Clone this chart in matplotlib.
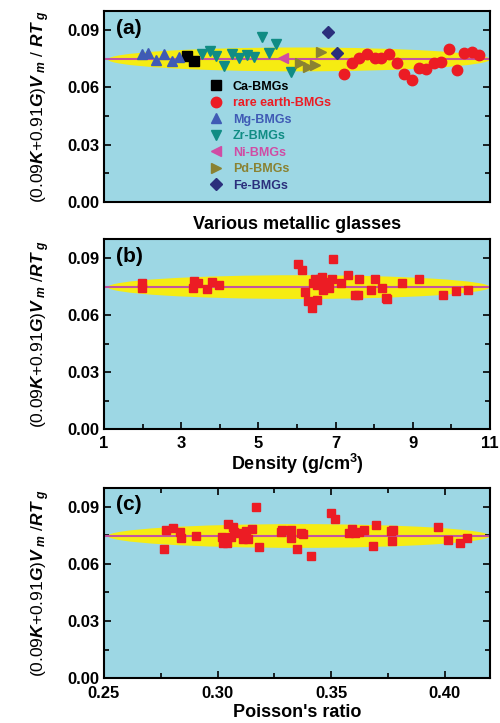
import matplotlib
matplotlib.use("Agg")
import matplotlib.pyplot as plt
from matplotlib.patches import Ellipse
from matplotlib.ticker import MultipleLocator
import matplotlib.transforms as mtrans

plt.rcParams['font.family'] = ['Liberation Sans', 'DejaVu Sans']
plt.rcParams['font.weight'] = 'bold'
plt.rcParams['mathtext.fontset'] = 'custom'
plt.rcParams['mathtext.bfit'] = 'Liberation Sans:italic:bold'
plt.rcParams['mathtext.it'] = 'Liberation Sans:italic:bold'
plt.rcParams['mathtext.bf'] = 'Liberation Sans:bold'
plt.rcParams['mathtext.rm'] = 'Liberation Sans:bold'

# ---------------- data: panel (a) ----------------
mg_x = [5.0, 5.8, 6.8, 7.9, 8.9, 9.9]
mg_y = [0.0774, 0.0781, 0.0743, 0.0774, 0.0738, 0.0760]
ca_x = [10.9, 11.9]
ca_y = [0.0764, 0.0738]
zr_x = [12.9, 13.9, 14.8, 15.8, 16.8, 17.8, 18.8, 19.8, 20.75, 21.75, 22.7, 24.6]
zr_y = [0.0778, 0.0792, 0.0764, 0.0713, 0.0773, 0.0755, 0.0769, 0.0760, 0.0862, 0.0781, 0.0830, 0.0682]
ni_x = [23.5]
ni_y = [0.0752]
pd_x = [25.8, 26.9, 27.8, 28.6]
pd_y = [0.0726, 0.0708, 0.0717, 0.0786]
fe_x = [29.5, 30.6]
fe_y = [0.0891, 0.0783]
re_x = [31.6, 32.6, 33.6, 34.6, 35.6, 36.5, 37.5, 38.5, 39.5, 40.5, 41.5, 42.4,
        43.4, 44.4, 45.4, 46.4, 47.4, 48.4, 49.4]
re_y = [0.0673, 0.0729, 0.0757, 0.0774, 0.0755, 0.0757, 0.0774, 0.0729, 0.0670,
        0.0638, 0.0703, 0.0699, 0.0726, 0.0734, 0.0804, 0.0691, 0.0781, 0.0786, 0.0769]

# ---------------- data: panel (b) ----------------
density = [1.98, 1.99, 3.30, 3.34, 3.44, 3.66, 3.81, 3.99, 6.03, 6.14, 6.22, 6.29,
           6.39, 6.42, 6.47, 6.51, 6.53, 6.55, 6.60, 6.64, 6.68, 6.73, 6.77, 6.84,
           6.90, 6.94, 7.13, 7.31, 7.50, 7.59, 7.61, 7.91, 8.03, 8.19, 8.30, 8.34,
           8.71, 9.17, 9.79, 10.12, 10.42]
val_b = [0.0766, 0.0740, 0.0743, 0.0778, 0.0769, 0.0736, 0.0774, 0.0757, 0.0867, 0.0835,
         0.0719, 0.0673, 0.0638, 0.0766, 0.0788, 0.0757, 0.0678, 0.0778, 0.0792, 0.0800,
         0.0731, 0.0774, 0.0760, 0.0740, 0.0792, 0.0897, 0.0766, 0.0809, 0.0704, 0.0708,
         0.0787, 0.0731, 0.0792, 0.0740, 0.0690, 0.0683, 0.0771, 0.0792, 0.0708, 0.0725,
         0.0731]

# ---------------- data: panel (c) ----------------
poisson = [0.2763, 0.2771, 0.2806, 0.2836, 0.2839, 0.2905, 0.3018, 0.3022, 0.3041, 0.3044,
           0.3059, 0.3066, 0.3073, 0.3088, 0.3110, 0.3125, 0.3136, 0.3154, 0.3168, 0.3183,
           0.3278, 0.3282, 0.3322, 0.3325, 0.3351, 0.3366, 0.3377, 0.3412, 0.3500, 0.3519,
           0.3578, 0.3592, 0.3607, 0.3621, 0.3643, 0.3683, 0.3699, 0.3763, 0.3768, 0.3771,
           0.3969, 0.4013, 0.4070, 0.4097]
val_c = [0.0677, 0.0778, 0.0790, 0.0769, 0.0737, 0.0746, 0.0743, 0.0708, 0.0712, 0.0808,
         0.0743, 0.0792, 0.0769, 0.0764, 0.0729, 0.0774, 0.0729, 0.0786, 0.0897, 0.0690,
         0.0769, 0.0778, 0.0781, 0.0734, 0.0677, 0.0764, 0.0760, 0.0641, 0.0870, 0.0835,
         0.0764, 0.0786, 0.0764, 0.0769, 0.0778, 0.0692, 0.0803, 0.0774, 0.0720, 0.0781,
         0.0792, 0.0725, 0.0708, 0.0734]

mean_val = 0.0747
band_height = 0.0125
yticks = [0.00, 0.03, 0.06, 0.09]

BG = '#9dd7e4'
YEL = '#f6ec12'
LINE = '#c455a0'
RED = '#ec1c24'

fig = plt.figure(figsize=(5.0, 7.23), dpi=100)
axa = fig.add_axes([0.208, 0.7206, 0.772, 0.264])
axb = fig.add_axes([0.208, 0.4066, 0.772, 0.2628])
axc = fig.add_axes([0.208, 0.0622, 0.772, 0.263])

ylabel_a = r'(0.09$\mathbfit{K}$+0.91$\mathbfit{G}$)$\mathbfit{V}_{\ \mathbfit{m}}$ / $\mathbfit{RT}_{\ \mathbfit{g}}$'
ylabel_bc = r'(0.09$\mathbfit{K}$+0.91$\mathbfit{G}$)$\mathbfit{V}_{\ \mathbfit{m}}$ /$\mathbfit{RT}_{\ \mathbfit{g}}$'


def style(ax, label, ylab):
    ax.set_facecolor(BG)
    ax.set_ylim(0, 0.1)
    ax.set_yticks(yticks)
    ax.set_yticklabels(['%.2f' % v for v in yticks])
    ax.yaxis.set_minor_locator(MultipleLocator(0.015))
    for s in ax.spines.values():
        s.set_linewidth(1.5)
    ax.tick_params(axis='both', which='major', direction='in', length=5, width=1.2,
                   labelsize=12, right=True)
    ax.tick_params(axis='both', which='minor', direction='in', length=3.5, width=1.2,
                   right=True)
    trans = mtrans.blended_transform_factory(ax.transAxes, ax.transData)
    ax.add_patch(Ellipse((0.505, mean_val), 0.99, band_height, transform=trans,
                         facecolor=YEL, edgecolor='none', zorder=1))
    ax.axhline(mean_val, color=LINE, lw=1.5, zorder=2)
    ax.text(0.03, 0.91, label, transform=ax.transAxes, fontsize=15,
            fontweight='bold', va='center', ha='left')
    ax.set_ylabel(ylab, fontsize=12.5, labelpad=11)


# ---- panel (a) ----
style(axa, '(a)', ylabel_a)
axa.set_xlim(0, 50.8)
axa.set_xticks([])
ms = 7.5
axa.plot(ca_x, ca_y, 's', color='black', ms=6.5, zorder=3, label='Ca-BMGs')
axa.plot(re_x, re_y, 'o', color=RED, ms=7.5, zorder=3, label='rare earth-BMGs')
axa.plot(mg_x, mg_y, '^', color='#3f5bb5', ms=ms, zorder=3, label='Mg-BMGs')
axa.plot(zr_x, zr_y, 'v', color='#108c84', ms=ms, zorder=3, label='Zr-BMGs')
axa.plot(ni_x, ni_y, '<', color='#d04ca4', ms=ms, zorder=3, label='Ni-BMGs')
axa.plot(pd_x, pd_y, '>', color='#8a8232', ms=ms, zorder=3, label='Pd-BMGs')
axa.plot(fe_x, fe_y, 'D', color='#2b2f7c', ms=6, zorder=3, label='Fe-BMGs')
leg_colors = ['black', RED, '#3f5bb5', '#108c84', '#d04ca4', '#8a8232', '#2b2f7c']
leg = axa.legend(loc='upper left', bbox_to_anchor=(0.275, 0.635), frameon=False,
                 fontsize=9, numpoints=1, handlelength=1.0, handletextpad=0.8,
                 labelspacing=0.36, borderpad=0, borderaxespad=0,
                 labelcolor=leg_colors, prop={'weight': 'bold', 'size': 9})
axa.set_xlabel('Various metallic glasses', fontsize=13, fontweight='bold', labelpad=10)

# ---- panel (b) ----
style(axb, '(b)', ylabel_bc)
axb.set_xlim(1, 11)
axb.set_xticks([1, 3, 5, 7, 9, 11])
axb.xaxis.set_minor_locator(MultipleLocator(1))
axb.tick_params(axis='x', which='both', top=False, pad=5)
axb.plot(density, val_b, 's', color=RED, ms=6, zorder=3)
axb.set_xlabel(r'Density (g/cm$^{\mathbf{3}}$)', fontsize=13, fontweight='bold', labelpad=1)

# ---- panel (c) ----
style(axc, '(c)', ylabel_bc)
axc.set_xlim(0.25, 0.42)
axc.set_xticks([0.25, 0.30, 0.35, 0.40])
axc.set_xticklabels(['0.25', '0.30', '0.35', '0.40'])
axc.xaxis.set_minor_locator(MultipleLocator(0.025))
axc.tick_params(axis='x', which='both', top=True, pad=6)
axc.plot(poisson, val_c, 's', color=RED, ms=6, zorder=3)
axc.set_xlabel("Poisson's ratio", fontsize=13, fontweight='bold', labelpad=2)

fig.savefig('out.png', dpi=100)
